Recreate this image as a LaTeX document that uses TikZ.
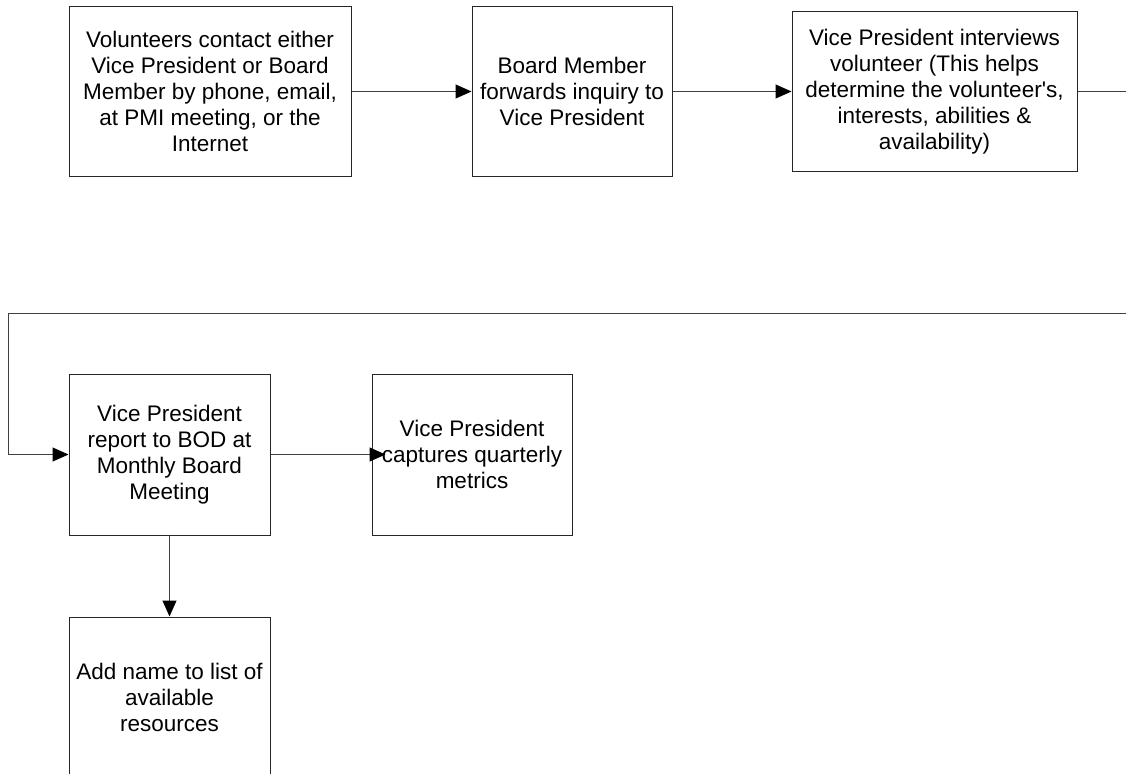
\documentclass[tikz,border=0pt]{standalone}
\usepackage{fontspec}
\setmainfont{Liberation Sans}[Ligatures=TeXOff]
\usetikzlibrary{arrows.meta,calc}
\begin{document}
\begin{tikzpicture}[x=1pt,y=-1pt,
  box/.style={draw=black!85,line width=1pt,inner sep=0pt,align=center,
    font=\fontsize{22.5}{26}\selectfont,text=black},
  conn/.style={draw=black!75,line width=1pt,
    -{Triangle[length=16pt,width=14pt,fill=black,color=black]}}]
\useasboundingbox (0,0) rectangle (1126,773);
\clip (0,0) rectangle (1126,773);
\node[box,minimum width=282pt,minimum height=169pt] (b1) at (210,91.5)
  {Volunteers contact either\\Vice President or Board\\Member by phone, email,\\at PMI meeting, or the\\Internet};
\node[box,minimum width=200pt,minimum height=169pt] (b2) at (572,91.5)
  {Board Member\\forwards inquiry to\\Vice President};
\node[box,minimum width=285pt,minimum height=160pt] (b3) at (934.5,91.5)
  {Vice President interviews\\volunteer (This helps\\determine the volunteer's,\\interests, abilities \&\\availability)};
\node[box,minimum width=201pt,minimum height=161pt] (b4) at (169.5,454.5)
  {Vice President\\report to BOD at\\Monthly Board\\Meeting};
\node[box,minimum width=200pt,minimum height=161pt] (b5) at (472,454.5)
  {Vice President\\captures quarterly\\metrics};
\node[box,minimum width=201pt,minimum height=161pt] (b6) at (169.5,697.5)
  {Add name to list of\\available\\resources};
\draw[conn] (b1.east) -- (b2.west);
\draw[conn] (b2.east) -- (b3.west);
\draw[conn] (b3.east) -- (1140,91.5) -- (1140,313) -- (8,313) |- (b4.west);
\draw[conn] (b4.east) -- ([xshift=14pt]b5.west);
\draw[conn] (b4.south) -- (b6.north);
\end{tikzpicture}
\end{document}
